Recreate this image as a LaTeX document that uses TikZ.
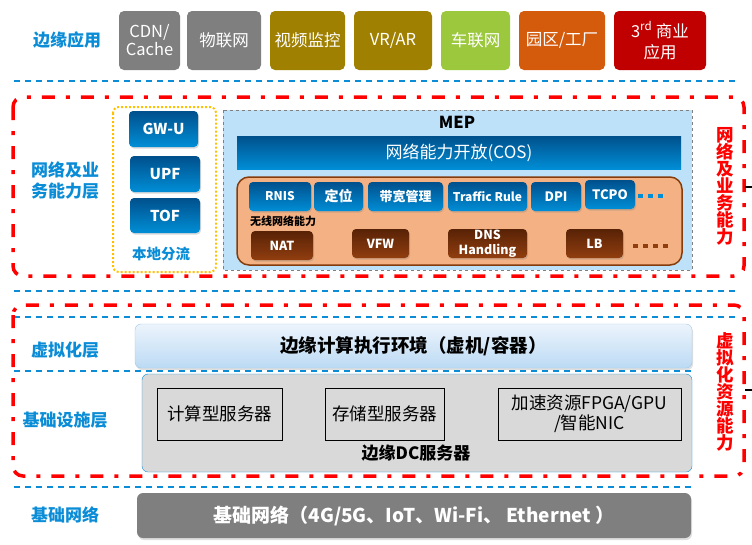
\documentclass[tikz,border=0pt]{standalone}
\usepackage{fontspec}
\setmainfont{Noto Sans CJK SC}
\usetikzlibrary{shadows}

\definecolor{labelblue}{RGB}{10,140,214}
\definecolor{appgray}{RGB}{127,127,127}
\definecolor{appolive}{RGB}{160,128,0}
\definecolor{appgreen}{RGB}{155,200,60}
\definecolor{apporange}{RGB}{212,90,12}
\definecolor{appred}{RGB}{192,0,0}
\definecolor{mepbg}{RGB}{190,225,250}
\definecolor{btntop}{RGB}{0,80,140}
\definecolor{btnbot}{RGB}{0,142,214}
\definecolor{salmon}{RGB}{244,177,131}
\definecolor{brownline}{RGB}{132,60,12}
\definecolor{browntop}{RGB}{88,34,6}
\definecolor{brownbot}{RGB}{145,62,15}
\definecolor{virttop}{RGB}{236,244,252}
\definecolor{virtbot}{RGB}{188,218,244}
\definecolor{infrabg}{RGB}{217,217,217}
\definecolor{dotorange}{RGB}{255,192,0}

\tikzset{
  app/.style={rounded corners=5pt,text=white,inner sep=0pt,minimum height=59pt,
    align=center,font=\fontsize{16.5}{18}\selectfont},
  layerlabel/.style={text=labelblue,align=center,font=\bfseries\fontsize{17}{21}\selectfont},
  layerline/.style={labelblue,line width=1.5pt,dash pattern=on 6pt off 5pt},
  redframe/.style={red,line width=3.5pt,rounded corners=10pt,dash pattern=on 13pt off 11pt on 4pt off 11pt},
  redtext/.style={text=red,align=center,text width=20pt,font=\bfseries\fontsize{17.5}{17}\selectfont},
  bluebtn/.style={rounded corners=4pt,top color=btntop,bottom color=btnbot,text=white,inner sep=0pt,
    font=\bfseries\fontsize{13}{14}\selectfont,
    drop shadow={opacity=0.3,shadow xshift=1pt,shadow yshift=-1.5pt}},
  brownbtn/.style={rounded corners=4pt,top color=browntop,bottom color=brownbot,text=white,inner sep=0pt,
    align=center,font=\bfseries\fontsize{12.5}{13}\selectfont,
    drop shadow={opacity=0.3,shadow xshift=1pt,shadow yshift=-1.5pt}},
  serverbox/.style={draw=black,fill=infrabg,inner sep=0pt,minimum height=52pt,align=center,
    font=\fontsize{17.5}{20}\selectfont}
}

\begin{document}
\begin{tikzpicture}[x=1pt,y=-1pt]
  \useasboundingbox (0,0) rectangle (752,544);

  % edge applications
  \node[layerlabel] (applabel) at (67,40) {边缘应用};
  \node[app,fill=appgray,minimum width=61pt] (cdn) at (149.5,40.5) {CDN/\\Cache};
  \node[app,fill=appgray,minimum width=74pt] (iot) at (224,40.5) {物联网};
  \node[app,fill=appolive,minimum width=75pt] (video) at (307.5,40.5) {视频监控};
  \node[app,fill=appolive,minimum width=78pt] (vrar) at (393,40.5) {VR/AR};
  \node[app,fill=appgreen,minimum width=69pt] (car) at (475.5,40.5) {车联网};
  \node[app,fill=apporange,minimum width=86pt] (park) at (562,40.5) {园区/工厂};
  \node[app,fill=appred,minimum width=92pt,font=\fontsize{16.5}{21}\selectfont] (third) at (660,40.5)
    {3\textsuperscript{rd} 商业\\应用};
  \draw[layerline] (14,81) -- (736,81);

  % network and service layer
  \node[layerlabel] (netlabel) at (65,181) {网络及业\\务能力层};
  \draw[dotorange,line width=2pt,dotted,rounded corners=6pt] (113,107) rectangle (216,272);
  \node[bluebtn,minimum width=69pt,minimum height=36pt,font=\bfseries\fontsize{15}{16}\selectfont] (gwu) at (163.5,129) {GW-U};
  \node[bluebtn,minimum width=70pt,minimum height=36pt,font=\bfseries\fontsize{15}{16}\selectfont] (upf) at (165,174) {UPF};
  \node[bluebtn,minimum width=70pt,minimum height=35pt,font=\bfseries\fontsize{15}{16}\selectfont] (tof) at (165,215.5) {TOF};
  \node[text=labelblue,font=\bfseries\fontsize{14.5}{15}\selectfont] (local) at (161,254) {本地分流};

  \draw[gray,dashed,fill=mepbg] (223,110) rectangle (692,270);
  \node[font=\bfseries\fontsize{16.5}{17}\selectfont] (mep) at (457,122) {MEP};
  \node[top color=btntop,bottom color=btnbot,text=white,inner sep=0pt,minimum width=444pt,minimum height=33pt,
    font=\fontsize{17}{18}\selectfont] (cos) at (459,152.5) {网络能力开放(COS)};
  \draw[brownline,line width=1.5pt,fill=salmon,rounded corners=12pt] (237,177) rectangle (682,265);

  \node[bluebtn,minimum width=62pt,minimum height=29pt,font=\bfseries\fontsize{12}{13}\selectfont] (rnis) at (280,196.5) {RNIS};
  \node[bluebtn,minimum width=49pt,minimum height=29pt,font=\bfseries\fontsize{14}{15}\selectfont] (locate) at (338.5,196.5) {定位};
  \node[bluebtn,minimum width=75pt,minimum height=29pt] (bw) at (405.5,196.5) {带宽管理};
  \node[bluebtn,minimum width=79pt,minimum height=29pt,font=\bfseries\fontsize{12}{13}\selectfont] (traffic) at (487.5,196.5) {Traffic Rule};
  \node[bluebtn,minimum width=50pt,minimum height=29pt,font=\bfseries\fontsize{13}{14}\selectfont] (dpi) at (556,196.5) {DPI};
  \node[bluebtn,minimum width=50pt,minimum height=29pt,font=\bfseries\fontsize{13}{14}\selectfont] (tcpo) at (610,194.5) {TCPO};
  \coordinate (bluedots) at (668,196);
  \draw[btnbot,line width=4.5pt,dash pattern=on 5pt off 5pt] (tcpo.east) ++(3,1.5) -- (bluedots);
  \node[font=\bfseries\fontsize{11}{12}\selectfont] (wireless) at (283,221) {无线网络能力};

  \node[brownbtn,minimum width=62pt,minimum height=29pt] (nat) at (282,245.5) {NAT};
  \node[brownbtn,minimum width=57pt,minimum height=29pt] (vfw) at (380.5,243.5) {VFW};
  \node[brownbtn,minimum width=79pt,minimum height=29pt,font=\bfseries\fontsize{12.5}{15}\selectfont] (dns) at (487.5,243.5) {DNS\\Handling};
  \node[brownbtn,minimum width=57pt,minimum height=29pt] (lb) at (594.5,243.5) {LB};
  \coordinate (browndots) at (668,246);
  \draw[brownbot,line width=4.5pt,dash pattern=on 5pt off 5pt] (633,246) -- (browndots);

  \node[redtext] (netcap) at (725,186) {网\\络\\及\\业\\务\\能\\力};
  \draw[redframe] (13,97) rectangle (744,276);
  \draw[line width=2pt] (745,187) -- (752,187);
  \draw[layerline] (14,291) -- (736,291);

  % virtualization and infrastructure
  \draw[layerline] (14,317) -- (736,317);
  \node[layerlabel] (virtlabel) at (65,350) {虚拟化层};
  \node[top color=virttop,bottom color=virtbot,draw={rgb,255:red,160;green,200;blue,230},rounded corners=6pt,
    inner sep=0pt,minimum width=557pt,minimum height=44pt,font=\bfseries\fontsize{18.5}{19}\selectfont,
    drop shadow={opacity=0.25,shadow xshift=1pt,shadow yshift=-2pt}] (virt) at (413.5,346) {边缘计算执行环境（虚机/容器）};
  \draw[layerline] (14,371) -- (693,371);

  \node[layerlabel] (infralabel) at (65,420) {基础设施层};
  \draw[labelblue,fill=infrabg,rounded corners=6pt] (142,374) rectangle (692,472);
  \node[serverbox,minimum width=125pt] (compute) at (219.5,414) {计算型服务器};
  \node[serverbox,minimum width=119pt] (storage) at (384.5,414) {存储型服务器};
  \node[serverbox,minimum width=183pt] (accel) at (589.5,414) {加速资源FPGA/GPU\\/智能NIC};
  \node[font=\bfseries\fontsize{17}{18}\selectfont] (dcserver) at (416,453) {边缘DC服务器};

  \node[redtext] (virtcap) at (725,392) {虚\\拟\\化\\资\\源\\能\\力};
  \draw[redframe] (13,305) rectangle (744,476);
  \draw[line width=2pt] (745,390) -- (752,390);
  \draw[layerline] (14,487) -- (693,487);

  % base network
  \node[layerlabel] (baselabel) at (65,515) {基础网络};
  \node[fill=appgray,text=white,rounded corners=6pt,inner sep=0pt,minimum width=554pt,minimum height=45pt,
    font=\bfseries\fontsize{19}{20}\selectfont,
    drop shadow={opacity=0.25,shadow xshift=1pt,shadow yshift=-2pt}] (basenet) at (414,515.5)
    {基础网络（4G/5G、IoT、Wi-Fi、 Ethernet ）};
\end{tikzpicture}
\end{document}
